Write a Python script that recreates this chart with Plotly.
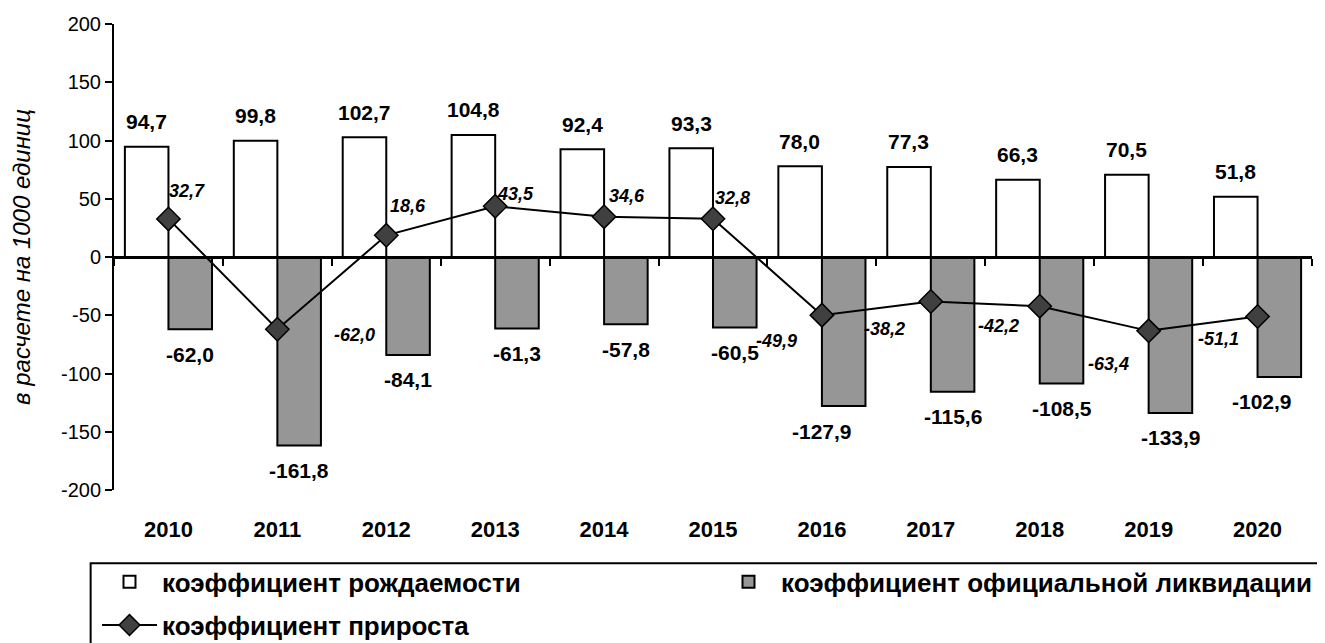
import plotly.graph_objects as go

# данные
years = ['2010', '2011', '2012', '2013', '2014', '2015', '2016', '2017', '2018', '2019', '2020']
birth = [94.7, 99.8, 102.7, 104.8, 92.4, 93.3, 78.0, 77.3, 66.3, 70.5, 51.8]
liquid = [-62.0, -161.8, -84.1, -61.3, -57.8, -60.5, -127.9, -115.6, -108.5, -133.9, -102.9]
growth = [32.7, -62.0, 18.6, 43.5, 34.6, 32.8, -49.9, -38.2, -42.2, -63.4, -51.1]
y_ticks = [-200, -150, -100, -50, 0, 50, 100, 150, 200]
y_ticktext = ['-200', '-150', '-100', '-50', '0', '50', '100', '150', '200']

# сдвиги подписей (px)
growth_dx = [19, 77, 22, 20, 23, 19, -45, -46, -41, -40, -39]
growth_dy = [28, -6, 29, 12, 21, 21, -26, -27, -20, -33, -22]
liquid_dx = [0, 0, 0, 0, 0, 0, -22, 0, 0, 0, -18]

FONT = 'Liberation Sans, Arial, sans-serif'


def fmt(v):
    return f'{v:.1f}'.replace('.', ',')


fig = go.Figure()
fig.add_trace(go.Bar(x=years, y=birth, name='коэффициент рождаемости',
                     marker=dict(color='white', line=dict(color='black', width=2)),
                     legend='legend'))
fig.add_trace(go.Bar(x=years, y=liquid, name='коэффициент официальной ликвидации',
                     marker=dict(color='#969696', line=dict(color='black', width=2)),
                     legend='legend3'))
fig.add_trace(go.Scatter(x=years, y=growth, mode='lines+markers', name='коэффициент прироста',
                         line=dict(color='black', width=2),
                         marker=dict(symbol='diamond', size=18, color='#404040',
                                     line=dict(color='black', width=1.5)),
                         xaxis='x2', legend='legend2'))

# подписи: по оси категорий x задаётся номером категории
annotations = []
for i in range(len(years)):
    annotations.append(dict(x=i, y=birth[i], xref='x', yref='y', text=fmt(birth[i]),
                            showarrow=False, xshift=-22, yshift=25,
                            font=dict(family=FONT, size=21, weight='bold', color='black')))
    annotations.append(dict(x=i, y=liquid[i], xref='x', yref='y', text=fmt(liquid[i]),
                            showarrow=False, xshift=22 + liquid_dx[i], yshift=-25,
                            font=dict(family=FONT, size=21, weight='bold', color='black')))
    annotations.append(dict(x=i, y=growth[i], xref='x', yref='y', text=fmt(growth[i]),
                            showarrow=False, xshift=growth_dx[i], yshift=growth_dy[i],
                            font=dict(family=FONT, size=18, weight='bold', style='italic',
                                      color='black')))

legend_style = dict(orientation='h', xanchor='left', yanchor='middle', itemwidth=55,
                    bgcolor='rgba(0,0,0,0)', font=dict(size=26, weight='bold'))

fig.update_layout(
    width=1317, height=635,
    margin=dict(l=106, r=13, t=16, b=153, autoexpand=False),
    paper_bgcolor='white', plot_bgcolor='white',
    font=dict(family=FONT, color='black'),
    barmode='group', bargap=0.2, bargroupgap=0,
    xaxis=dict(type='category', range=[-0.5, 10.5], showline=False, ticks='',
               showgrid=False, zeroline=False, ticklabelstandoff=24, automargin=False,
               tickfont=dict(size=22, weight='bold')),
    xaxis2=dict(type='category', overlaying='x', anchor='free', position=0.5,
                range=[-0.5, 10.5], showline=True, linecolor='black', linewidth=2.5,
                ticks='outside', tickson='boundaries', ticklen=7, tickwidth=2,
                tickcolor='black', showticklabels=False, showgrid=False, zeroline=False),
    yaxis=dict(range=[-200, 200], tickmode='array', tickvals=y_ticks, ticktext=y_ticktext,
               ticks='outside', ticklen=7, tickwidth=2, tickcolor='black', showline=True,
               linewidth=2, linecolor='black', showgrid=False, zeroline=False,
               automargin=False, tickfont=dict(size=20),
               title=dict(text='в расчете на 1000 единиц', standoff=28,
                          font=dict(size=24, style='italic'))),
    legend=dict(x=-0.0142, y=-0.197, **legend_style),
    legend3=dict(x=0.5025, y=-0.197, **legend_style),
    legend2=dict(x=-0.0142, y=-0.290, **legend_style),
    annotations=annotations,
    shapes=[dict(type='rect', xref='paper', yref='paper', x0=-0.0195, x1=1.2,
                 y0=-0.6, y1=-0.157, line=dict(color='black', width=2))],
    showlegend=True,
)

fig.write_html('out.html')
